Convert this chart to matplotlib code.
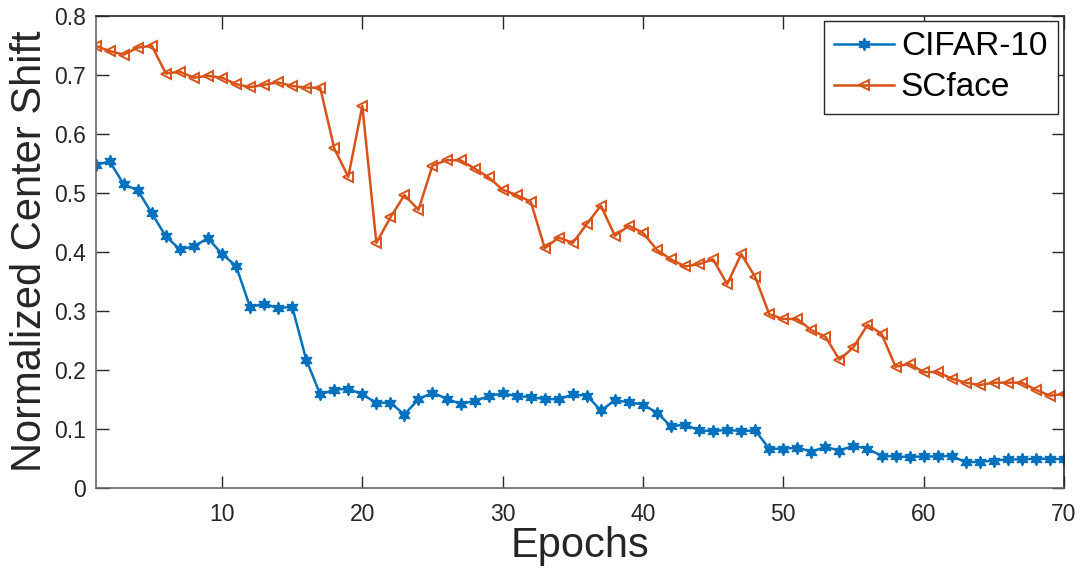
import matplotlib
matplotlib.use("Agg")
import matplotlib.pyplot as plt

plt.rcParams['font.family'] = ['Liberation Sans', 'DejaVu Sans']

epochs = list(range(1, 71))

cifar10 = [0.547, 0.553, 0.514, 0.504, 0.465, 0.426, 0.404, 0.409, 0.423, 0.396,
           0.376, 0.306, 0.312, 0.304, 0.307, 0.217, 0.158, 0.166, 0.168, 0.158,
           0.144, 0.144, 0.124, 0.150, 0.161, 0.151, 0.142, 0.147, 0.155, 0.160,
           0.155, 0.154, 0.150, 0.150, 0.158, 0.156, 0.131, 0.148, 0.145, 0.141,
           0.127, 0.104, 0.107, 0.097, 0.096, 0.098, 0.096, 0.097, 0.066, 0.066,
           0.068, 0.061, 0.069, 0.063, 0.071, 0.066, 0.054, 0.053, 0.052, 0.053,
           0.053, 0.054, 0.043, 0.044, 0.046, 0.048, 0.048, 0.049, 0.049, 0.048]

scface = [0.749, 0.740, 0.734, 0.746, 0.749, 0.702, 0.705, 0.695, 0.698, 0.695,
          0.684, 0.679, 0.683, 0.687, 0.681, 0.678, 0.678, 0.575, 0.527, 0.647,
          0.415, 0.458, 0.496, 0.471, 0.546, 0.555, 0.555, 0.541, 0.526, 0.505,
          0.496, 0.485, 0.406, 0.424, 0.415, 0.447, 0.478, 0.427, 0.444, 0.432,
          0.403, 0.387, 0.375, 0.379, 0.387, 0.345, 0.396, 0.357, 0.294, 0.286,
          0.286, 0.267, 0.256, 0.217, 0.238, 0.276, 0.261, 0.205, 0.210, 0.196,
          0.196, 0.185, 0.178, 0.174, 0.178, 0.178, 0.178, 0.166, 0.156, 0.159]

series_names = ["CIFAR-10", "SCface"]
xticks = [10, 20, 30, 40, 50, 60, 70]
yticks = [0, 0.1, 0.2, 0.3, 0.4, 0.5, 0.6, 0.7, 0.8]
ytick_labels = ["0", "0.1", "0.2", "0.3", "0.4", "0.5", "0.6", "0.7", "0.8"]

fig = plt.figure(figsize=(10.9, 5.84), dpi=100)
ax = fig.add_axes([0.0878, 0.1649, 0.9761 - 0.0878, 0.9731 - 0.1649])

blue = "#0072BD"
orange = "#D95319"

ax.plot(epochs, cifar10, color=blue, lw=1.8, marker=(6, 1, 0), markersize=9,
        markerfacecolor=blue, markeredgecolor=blue, markeredgewidth=1.0,
        label=series_names[0])
ax.plot(epochs, scface, color=orange, lw=1.8, marker='<', markersize=7.5,
        markerfacecolor='none', markeredgecolor=orange, markeredgewidth=1.4,
        label=series_names[1])

ax.set_xlim(1, 70)
ax.set_ylim(0, 0.8)
ax.set_xticks(xticks)
ax.set_yticks(yticks)
ax.set_yticklabels(ytick_labels)

ax.tick_params(axis='both', which='major', direction='in', length=9, width=1.0,
               colors='#262626', labelsize=16.5, top=True, right=True)
ax.tick_params(axis='x', pad=11)
ax.tick_params(axis='y', pad=7)
for s in ['left', 'bottom']:
    ax.spines[s].set_color('#666666')
    ax.spines[s].set_linewidth(1.2)
for s in ['top', 'right']:
    ax.spines[s].set_color('#262626')
    ax.spines[s].set_linewidth(1.2)
for t in ax.xaxis.get_major_ticks() + ax.yaxis.get_major_ticks():
    t.tick1line.set_color('#666666')
    t.tick2line.set_color('#666666')

ax.set_xlabel("Epochs", fontsize=30, color='#262626', labelpad=0)
ax.set_ylabel("Normalized Center Shift", fontsize=30, color='#262626', labelpad=3)

leg = ax.legend(loc='upper right', bbox_to_anchor=(1 - 6 / 968, 1 - 5 / 472),
                borderaxespad=0, fontsize=24, handlelength=1.8, handletextpad=0.2,
                labelspacing=0.3, borderpad=0.32, fancybox=False, framealpha=1,
                edgecolor='#262626', numpoints=1)
leg.get_frame().set_linewidth(1.0)

fig.savefig("out.png", dpi=100)
